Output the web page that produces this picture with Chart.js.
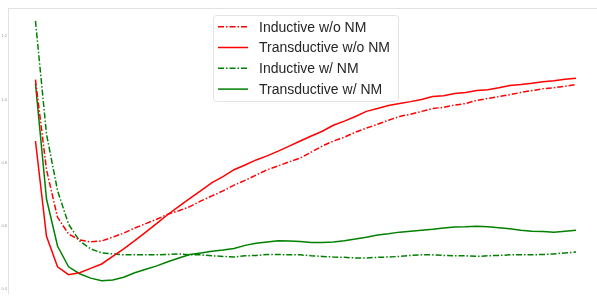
<!DOCTYPE html>
<html>
<head>
<meta charset="utf-8">
<script src="https://cdn.jsdelivr.net/npm/chart.js@4/dist/chart.umd.min.js"></script>
<style>
  html, body { margin: 0; padding: 0; background: #fff; }
  canvas { display: block; }
</style>
</head>
<body>
<canvas id="chart" width="597" height="297"></canvas>
<script>
let epochs = [1, 2, 3, 4, 5, 6, 7, 8, 9, 10, 11, 12, 13, 14, 15, 16, 17, 18, 19, 20,
    21, 22, 23, 24, 25, 26, 27, 28, 29, 30, 31, 32, 33, 34, 35, 36, 37, 38, 39, 40,
    41, 42, 43, 44, 45, 46, 47, 48, 49, 50];

let inductive_no_nm = [1.063, 0.777, 0.626, 0.573, 0.554, 0.548, 0.551, 0.563, 0.576, 0.592,
    0.606, 0.620, 0.636, 0.647, 0.660, 0.678, 0.694, 0.710, 0.728, 0.743,
    0.760, 0.777, 0.789, 0.802, 0.814, 0.833, 0.852, 0.868, 0.880, 0.896,
    0.909, 0.921, 0.934, 0.946, 0.953, 0.962, 0.971, 0.975, 0.982, 0.987,
    0.997, 1.003, 1.009, 1.015, 1.022, 1.028, 1.034, 1.037, 1.042, 1.047];

let transductive_no_nm = [0.868, 0.566, 0.469, 0.444, 0.450, 0.464, 0.478, 0.502, 0.526, 0.552,
    0.579, 0.607, 0.635, 0.661, 0.686, 0.711, 0.736, 0.755, 0.777, 0.792,
    0.808, 0.821, 0.836, 0.852, 0.868, 0.884, 0.899, 0.918, 0.931, 0.946,
    0.962, 0.971, 0.981, 0.987, 0.993, 1.000, 1.009, 1.012, 1.019, 1.022,
    1.028, 1.031, 1.037, 1.044, 1.047, 1.051, 1.056, 1.059, 1.064, 1.067];

let inductive_nm = [1.249, 0.890, 0.711, 0.604, 0.551, 0.526, 0.513, 0.510, 0.507, 0.507,
    0.507, 0.507, 0.508, 0.510, 0.507, 0.507, 0.504, 0.502, 0.500, 0.504,
    0.505, 0.508, 0.508, 0.507, 0.507, 0.504, 0.502, 0.500, 0.499, 0.497,
    0.497, 0.499, 0.500, 0.502, 0.505, 0.507, 0.507, 0.505, 0.504, 0.504,
    0.502, 0.504, 0.505, 0.507, 0.507, 0.507, 0.508, 0.510, 0.513, 0.516];

let transductive_nm = [1.050, 0.684, 0.535, 0.469, 0.447, 0.433, 0.425, 0.427, 0.436, 0.450,
    0.461, 0.472, 0.485, 0.497, 0.508, 0.513, 0.518, 0.522, 0.527, 0.537,
    0.544, 0.548, 0.552, 0.551, 0.549, 0.546, 0.546, 0.548, 0.552, 0.557,
    0.563, 0.570, 0.574, 0.579, 0.582, 0.585, 0.588, 0.592, 0.595, 0.596,
    0.598, 0.596, 0.593, 0.590, 0.585, 0.582, 0.581, 0.579, 0.582, 0.585];

let y_ticks = [0.4, 0.6, 0.8, 1.0, 1.2];

const DASH_DOT = [6, 2, 1.5, 2];

function toPoints(values) {
    return values.map((v, i) => ({ x: epochs[i], y: v }));
}

// legend drawn as a framed box inside the plot, like the original figure
const boxLegend = {
    id: "boxLegend",
    afterDraw(chart) {
        const ctx = chart.ctx;
        const [bx, by, bw, bh] = [213.5, 15.5, 185, 86];
        ctx.save();
        ctx.beginPath();
        ctx.roundRect(bx, by, bw, bh, 3);
        ctx.fillStyle = "rgba(255,255,255,0.85)";
        ctx.fill();
        ctx.strokeStyle = "#e4e4e4";
        ctx.lineWidth = 1;
        ctx.stroke();

        ctx.font = "14px 'Liberation Sans', Arial, sans-serif";
        ctx.textBaseline = "middle";
        chart.data.datasets.forEach((ds, i) => {
            const y = 26.7 + i * 20.8;
            ctx.beginPath();
            ctx.setLineDash(ds.borderDash || []);
            ctx.strokeStyle = ds.borderColor;
            ctx.lineWidth = 1.5;
            ctx.moveTo(218, y);
            ctx.lineTo(248, y);
            ctx.stroke();
            ctx.setLineDash([]);
            ctx.fillStyle = "#262626";
            ctx.fillText(ds.label, 259, y + 1);
        });
        ctx.restore();
    }
};

new Chart("chart", {
    type: "line",
    data: {
        datasets: [
            { label: "Inductive w/o NM", data: toPoints(inductive_no_nm), borderColor: "#ff0000", borderDash: DASH_DOT },
            { label: "Transductive w/o NM", data: toPoints(transductive_no_nm), borderColor: "#ff0000" },
            { label: "Inductive w/ NM", data: toPoints(inductive_nm), borderColor: "#008000", borderDash: DASH_DOT },
            { label: "Transductive w/ NM", data: toPoints(transductive_nm), borderColor: "#008000" }
        ]
    },
    options: {
        responsive: false,
        animation: false,
        layout: { padding: { top: 8, left: 0, right: 0, bottom: 0 } },
        elements: {
            line: { borderWidth: 1.5, tension: 0, fill: false },
            point: { radius: 0 }
        },
        plugins: {
            legend: { display: false },
            tooltip: { enabled: false }
        },
        scales: {
            x: {
                type: "linear",
                min: -1.49,
                max: 51.9,
                display: false
            },
            top: {
                type: "linear",
                position: "top",
                min: 0,
                max: 1,
                ticks: { display: false },
                grid: { display: false, drawTicks: false },
                border: { display: true, color: "#e2e2e2", width: 1 }
            },
            y: {
                min: 0.384,
                max: 1.29,
                afterBuildTicks: (scale) => { scale.ticks = y_ticks.map(v => ({ value: v })); },
                afterFit: (scale) => { scale.width = 8; },
                ticks: {
                    callback: (v) => Number(v).toFixed(1),
                    font: { size: 4, family: "'Liberation Sans', Arial, sans-serif" },
                    color: "#9a9a9a",
                    padding: 1
                },
                grid: { display: false, drawTicks: false },
                border: { display: true, color: "#e2e2e2", width: 1 }
            }
        }
    },
    plugins: [boxLegend]
});
</script>
</body>
</html>
